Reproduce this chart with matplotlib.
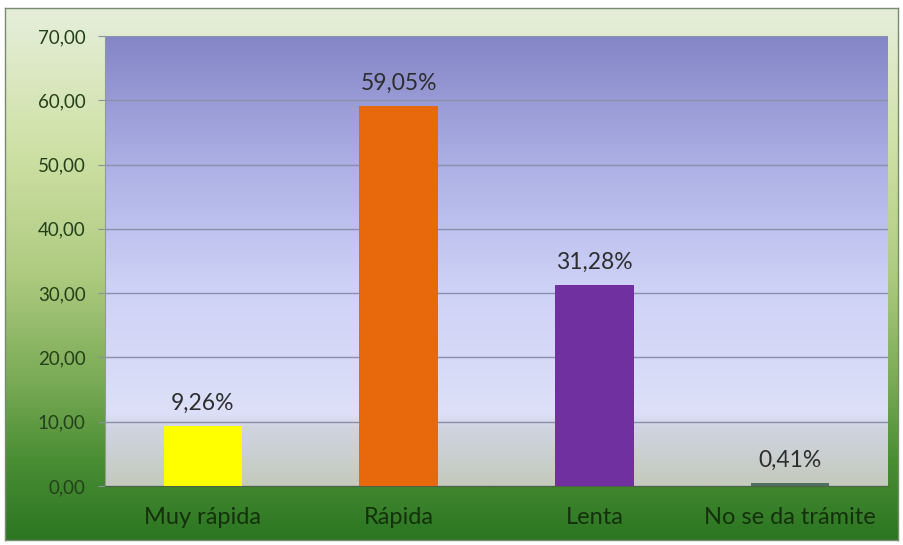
import numpy as np
import matplotlib.pyplot as plt
from matplotlib.colors import LinearSegmentedColormap

categories = ["Muy rápida", "Rápida", "Lenta", "No se da trámite"]
values = [9.26, 59.05, 31.28, 0.41]
labels = ["9,26%", "59,05%", "31,28%", "0,41%"]
bar_colors = ["#ffff00", "#e8680c", "#7030a0", "#4f6f5f"]
yticks = [0, 10, 20, 30, 40, 50, 60, 70]

plt.rcParams['font.family'] = ['Lato', 'DejaVu Sans']

fig = plt.figure(figsize=(9.04, 5.45), dpi=100)
fig.patch.set_facecolor("white")

# outer chart frame with vertical green gradient
bg = fig.add_axes([5/904, 1-540/545, 893/904, 532/545])
bg_cmap = LinearSegmentedColormap.from_list("bg", [
    (0.0, "#e6eedb"), (0.25, "#d0e2a8"), (0.5, "#afcb80"),
    (0.7, "#7aab56"), (0.85, "#4a8e34"), (1.0, "#2c7622")])
grad = np.linspace(0, 1, 256).reshape(-1, 1)
bg.imshow(grad, aspect="auto", cmap=bg_cmap, extent=[0, 1, 0, 1], origin="upper")
bg.set_xlim(0, 1); bg.set_ylim(0, 1)
bg.set_xticks([]); bg.set_yticks([])
for s in bg.spines.values():
    s.set_color("#7a8a70"); s.set_linewidth(1.0)

ax = fig.add_axes([105/904, 1-486/545, 783/904, 450/545])
plot_cmap = LinearSegmentedColormap.from_list("pa", [
    (0.0, "#8486c6"), (0.3, "#aeb2e6"), (0.55, "#cdd1f6"),
    (0.84, "#dde0f8"), (0.87, "#d0d4e2"), (1.0, "#c4cabc")])
ax.imshow(grad, aspect="auto", cmap=plot_cmap, extent=[-0.5, 3.5, 0, 70],
          origin="upper", zorder=0)

x = np.arange(len(categories))
ax.bar(x, values, width=0.4, color=bar_colors, zorder=3)
for xi, v, lab in zip(x, values, labels):
    ax.text(xi, v + 1.9, lab, ha="center", va="bottom", fontsize=16.5,
            color="#2e2e2e", zorder=4)

ax.set_xlim(-0.5, 3.5)
ax.set_ylim(0, 70)
ax.set_yticks(yticks)
ax.set_yticklabels([f"{t:.2f}".replace(".", ",") for t in yticks],
                   fontsize=13.5, color="#24401a")
ax.set_xticks(x)
ax.set_xticklabels(categories, fontsize=17, color="#14300c")
ax.tick_params(axis="x", length=0, pad=15)
ax.tick_params(axis="y", length=5, color="#8890a0", pad=9)
ax.grid(axis="y", color="#8a90aa", linewidth=1.0, zorder=1)
ax.set_axisbelow(True)
for s in ["top", "right"]:
    ax.spines[s].set_visible(False)
ax.spines["left"].set_color("#9098a8")
ax.spines["bottom"].set_color("#506048")

fig.savefig("out.png", dpi=100)
